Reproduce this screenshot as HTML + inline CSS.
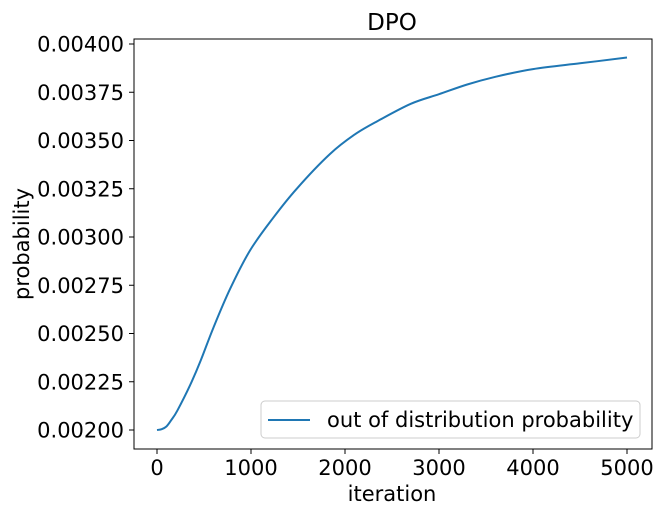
<!DOCTYPE html>
<html><head><meta charset="utf-8"><style>
body{margin:0;background:#fff;}
text{font-family:"DejaVu Sans","Liberation Sans",sans-serif;fill:#000;}
</style></head><body>
<svg id="chart" width="665" height="517" xmlns="http://www.w3.org/2000/svg">
<text x="392" y="30" font-size="23" text-anchor="middle">DPO</text>
<rect x="134" y="39" width="518" height="410" fill="none" stroke="#000" stroke-width="1"/>
<g id="xticks"></g>
<g id="yticks"></g>
<path id="line" fill="none" stroke="#1f77b4" stroke-width="2" stroke-linejoin="round"/>
<text x="392" y="501" font-size="21" text-anchor="middle">iteration</text>
<text transform="translate(29,244) rotate(-90)" font-size="21" text-anchor="middle">probability</text>
<g>
<rect x="261" y="401" width="379" height="37" rx="4" fill="#fff" stroke="#ccc"/>
<line x1="268" y1="420" x2="310" y2="420" stroke="#1f77b4" stroke-width="2"/>
<text x="327" y="427" font-size="21">out of distribution probability</text>
</g>
</svg>
<script>
const iterations=[0,50,100,150,216,350,465,600,777,989,1237,1486,1840,2100,2344,2700,3000,3300,3600,4000,4500,5000];
const probability=[0.00200,0.002004,0.002018,0.00205,0.00210,0.00223,0.00236,0.00253,0.00273,0.00293,0.00310,0.00325,0.00343,0.00353,0.00360,0.00369,0.00374,0.00379,0.00383,0.00387,0.00390,0.00393];
const xTicks=[0,1000,2000,3000,4000,5000];
const yTicks=[0.002,0.00225,0.0025,0.00275,0.003,0.00325,0.0035,0.00375,0.004];
const yTickLabels=["0.00200","0.00225","0.00250","0.00275","0.00300","0.00325","0.00350","0.00375","0.00400"];
const NS="http://www.w3.org/2000/svg";
function xs(v){return 157+(v-0)*(627-157)/5000;}
function ys(v){return 430-(v-0.002)*(430-44)/0.002;}
const xg=document.getElementById('xticks'),yg=document.getElementById('yticks');
xTicks.forEach(t=>{
 const l=document.createElementNS(NS,'line');
 l.setAttribute('x1',xs(t));l.setAttribute('x2',xs(t));l.setAttribute('y1',449);l.setAttribute('y2',454);l.setAttribute('stroke','#000');
 
 
 xg.appendChild(l);
 const tx=document.createElementNS(NS,'text');
 tx.setAttribute('x',xs(t));tx.setAttribute('y',475);tx.setAttribute('font-size','21');tx.setAttribute('text-anchor','middle');tx.textContent=t;
 
 
 xg.appendChild(tx);
});
yTicks.forEach((t,i)=>{
 const l=document.createElementNS(NS,'line');
 l.setAttribute('x1',129);l.setAttribute('x2',134);l.setAttribute('y1',ys(t));l.setAttribute('y2',ys(t));l.setAttribute('stroke','#000');
 
 
 yg.appendChild(l);
 const tx=document.createElementNS(NS,'text');
 tx.setAttribute('x',124);tx.setAttribute('y',ys(t)+7.5);tx.setAttribute('font-size','21');tx.setAttribute('text-anchor','end');tx.textContent=yTickLabels[i];
 
 
 yg.appendChild(tx);
});
const P=iterations.map((v,i)=>[xs(v),ys(probability[i])]);
let d='M'+P[0][0].toFixed(1)+','+P[0][1].toFixed(1);
for(let i=0;i<P.length-1;i++){
 const p0=P[Math.max(0,i-1)],p1=P[i],p2=P[i+1],p3=P[Math.min(P.length-1,i+2)];
 const c1=[p1[0]+(p2[0]-p0[0])/6,p1[1]+(p2[1]-p0[1])/6];
 const c2=[p2[0]-(p3[0]-p1[0])/6,p2[1]-(p3[1]-p1[1])/6];
 d+=' C'+c1.map(n=>n.toFixed(1)).join(',')+' '+c2.map(n=>n.toFixed(1)).join(',')+' '+p2.map(n=>n.toFixed(1)).join(',');
}
document.getElementById('line').setAttribute('d',d);
</script>
</body></html>
